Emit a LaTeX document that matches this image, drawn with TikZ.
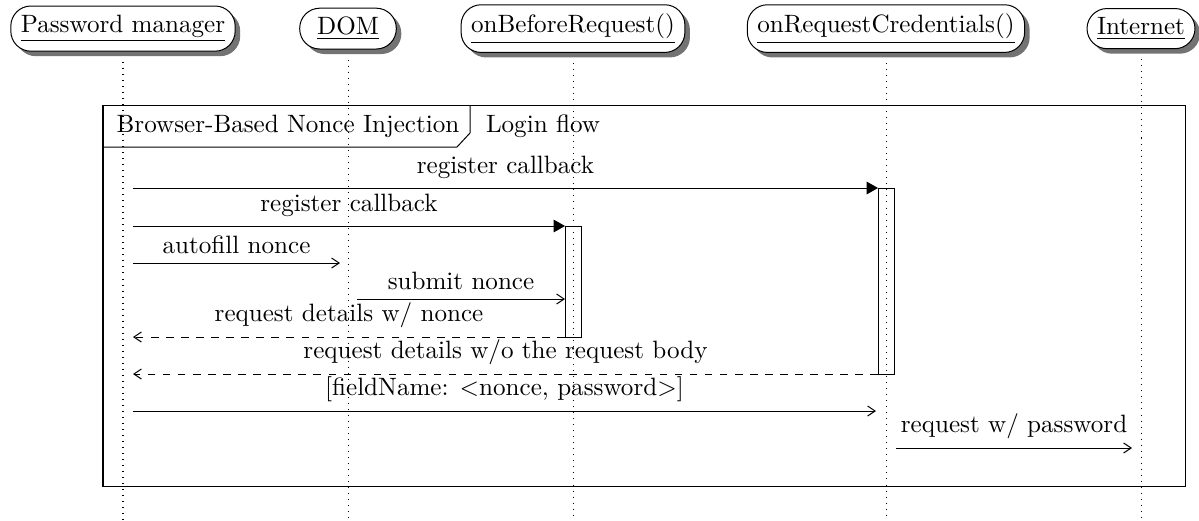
\documentclass[tikz,border=0pt]{standalone}
\usetikzlibrary{positioning,calc,shadows,arrows.meta}
\tikzset{
  inst/.style={draw, fill=white, rounded corners=8pt, inner xsep=4pt, inner ysep=3.5pt,
    minimum height=16pt, minimum width=38.5pt,
    drop shadow={shadow xshift=2pt, shadow yshift=-2pt, fill=black!55, opacity=1}},
  life/.style={dotted},
  call/.style={-{Triangle[length=4.5pt,width=5pt]}},
  msg/.style={-{Straight Barb[length=3pt,width=4pt]}},
  reply/.style={dashed, -{Straight Barb[length=3pt,width=4pt]}}
}
\begin{document}
\begin{tikzpicture}[x=0.014cm, y=-0.014cm]
\useasboundingbox (0,0) rectangle (1199,520);
\node [inst] (pm) at (123,28.6) {\underline{Password manager}};
\node [inst] (dom) at (348,28.6) {\underline{DOM}};
\node [inst] (obr) at (573,28.6) {\underline{onBeforeRequest()}};
\node [inst] (orc) at (886,28.6) {\underline{onRequestCredentials()}};
\node [inst] (net) at (1141,28.6) {\underline{Internet}};
\coordinate (bot) at (0,520);
\foreach \n in {pm,dom,obr,orc,net}
  \draw [life] ([yshift=-4pt]\n.south) -- (\n.south |- bot);

\draw (103,105) rectangle (1185,486);
\draw (103,147) -- (457,147) -- (470,133) -- (470,105);
\node (frametitle) at (288,126) {Browser-Based Nonce Injection};
\node (framelabel) at (543,126) {Login flow};

\draw (878,188) rectangle (894,374);
\draw (565,226) rectangle (581,337);

\coordinate (pm1) at (133,188); \coordinate (orc1) at (878,188);
\coordinate (pm2) at (133,226); \coordinate (obr2) at (565,226);
\coordinate (pm3) at (133,263); \coordinate (dom3) at (340,263);
\coordinate (dom4) at (357,299); \coordinate (obr4) at (565,299);
\coordinate (obr5) at (565,337); \coordinate (pm5) at (133,337);
\coordinate (orc6) at (878,374); \coordinate (pm6) at (133,374);
\coordinate (pm7) at (133,411); \coordinate (orc7) at (876,411);
\coordinate (orc8) at (896,448); \coordinate (net8) at (1132,448);

\draw [call] (pm1) -- node [above] (l1) {register callback} (orc1);
\draw [call] (pm2) -- node [above] (l2) {register callback} (obr2);
\draw [msg] (pm3) -- node [above] (l3) {autofill nonce} (dom3);
\draw [msg] (dom4) -- node [above] (l4) {submit nonce} (obr4);
\draw [reply] (obr5) -- node [above] (l5) {request details w/ nonce} (pm5);
\draw [reply] (orc6) -- node [above] (l6) {request details w/o the request body} (pm6);
\draw [msg] (pm7) -- node [above] (l7) {[fieldName: $<$nonce, password$>$]} (orc7);
\draw [msg] (orc8) -- node [above] (l8) {request w/ password} (net8);
\end{tikzpicture}
\end{document}
